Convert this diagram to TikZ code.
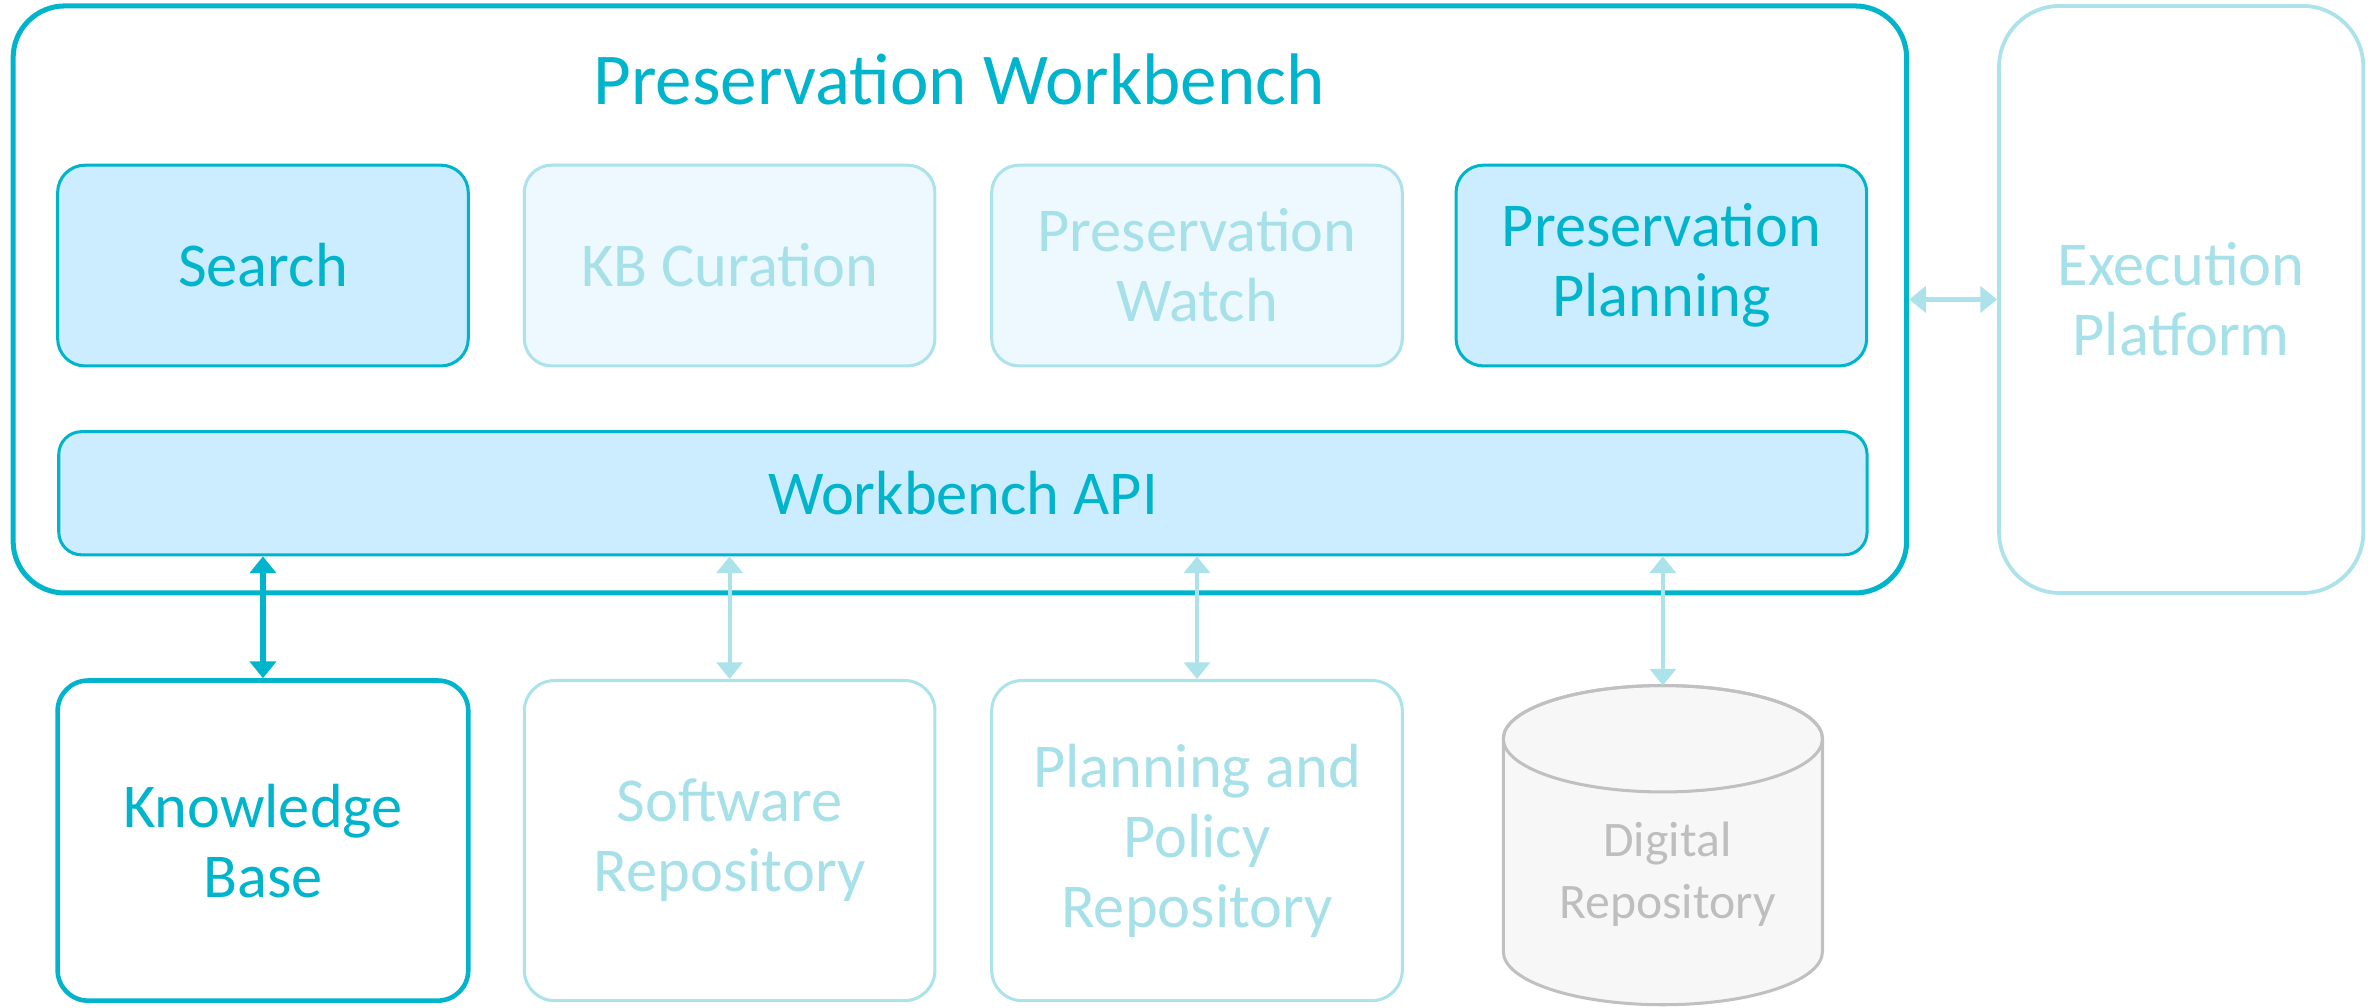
\documentclass[tikz,border=0pt]{standalone}
\usepackage{fontspec}
\setmainfont{Carlito}
\usetikzlibrary{arrows.meta}
\definecolor{teal1}{RGB}{0,180,204}
\definecolor{fade}{RGB}{172,226,234}
\definecolor{fadetxt}{RGB}{166,224,232}
\definecolor{actfill}{RGB}{204,236,255}
\definecolor{fadefill}{RGB}{238,248,255}
\definecolor{dgray}{RGB}{192,192,192}
\definecolor{dfill}{RGB}{247,247,247}
\definecolor{dtxt}{RGB}{190,190,190}
\tikzset{
  lbl/.style={font=\fontsize{11.67}{13.1}\selectfont, align=center},
  actbox/.style={lbl, draw=teal1, fill=actfill, text=teal1, line width=0.02cm, rounded corners=0.18cm, minimum width=2.70cm, minimum height=1.32cm},
  fadebox/.style={lbl, draw=fade, fill=fadefill, text=fadetxt, line width=0.02cm, rounded corners=0.18cm, minimum width=2.70cm, minimum height=1.32cm},
  lowbox/.style={lbl, draw=fade, fill=white, text=fadetxt, line width=0.02cm, rounded corners=0.2cm, minimum width=2.70cm, minimum height=2.105cm},
  arrA/.style={draw=teal1, line width=0.04cm, {Triangle[width=0.17cm,length=0.11cm]}-{Triangle[width=0.17cm,length=0.11cm]}},
  arrF/.style={draw=fade, line width=0.027cm, {Triangle[width=0.17cm,length=0.11cm]}-{Triangle[width=0.17cm,length=0.11cm]}},
}
\begin{document}
\begin{tikzpicture}[x=0.01cm,y=-0.01cm]
\useasboundingbox (0,0) rectangle (1562.5,662.5);
% outer workbench
\node[draw=teal1, fill=white, line width=0.033cm, rounded corners=0.34cm, minimum width=12.45cm, minimum height=3.86cm] (outer) at (631.5,197) {};
\node[lbl, font=\fontsize{13.66}{15}\selectfont, text=teal1] (title) at (631,52) {Preservation Workbench};
% execution platform
\node[lbl, draw=fade, fill=white, text=fadetxt, line width=0.025cm, rounded corners=0.4cm, minimum width=2.395cm, minimum height=3.86cm] (exec) at (1435,197) {Execution\\Platform};
% modules
\node[actbox] (search) at (173,174.7) {Search};
\node[fadebox] (kbc) at (480,174.7) {KB Curation};
\node[fadebox] (watch) at (787.5,174.7) {Preservation\\Watch};
\node[actbox] (plan) at (1093,174.7) {Preservation\\Planning};
% API
\node[actbox, minimum width=11.89cm, minimum height=0.81cm, rounded corners=0.15cm] (api) at (633.5,324.5) {Workbench API};
% lower repositories
\node[lowbox, draw=teal1, text=teal1, line width=0.03cm] (kb) at (173,553) {Knowledge\\Base};
\node[lowbox] (sw) at (480,553) {Software\\Repository};
\node[lowbox] (ppr) at (787.5,553) {Planning and\\Policy\\Repository};
% digital repository cylinder
\path[draw=dgray, fill=dfill, line width=0.02cm] (989,486) -- (989,626) arc[start angle=180, end angle=0, x radius=105, y radius=35] -- (1199,486) arc[start angle=0, end angle=-180, x radius=105, y radius=35] -- cycle;
\draw[dgray, line width=0.02cm] (1094,486) ellipse [x radius=105, y radius=35];
\coordinate (dig) at (1094,451);
\node[lbl, font=\fontsize{9.3}{11.7}\selectfont, text=dtxt] (digtxt) at (1097,575) {Digital\\Repository};
% connectors
\draw[arrA] (kb.north |- api.south) -- (kb.north);
\draw[arrF] (sw.north |- api.south) -- (sw.north);
\draw[arrF] (ppr.north |- api.south) -- (ppr.north);
\draw[arrF] (dig |- api.south) -- (dig);
\draw[arrF] (outer.east) -- (exec.west);
\end{tikzpicture}
\end{document}
